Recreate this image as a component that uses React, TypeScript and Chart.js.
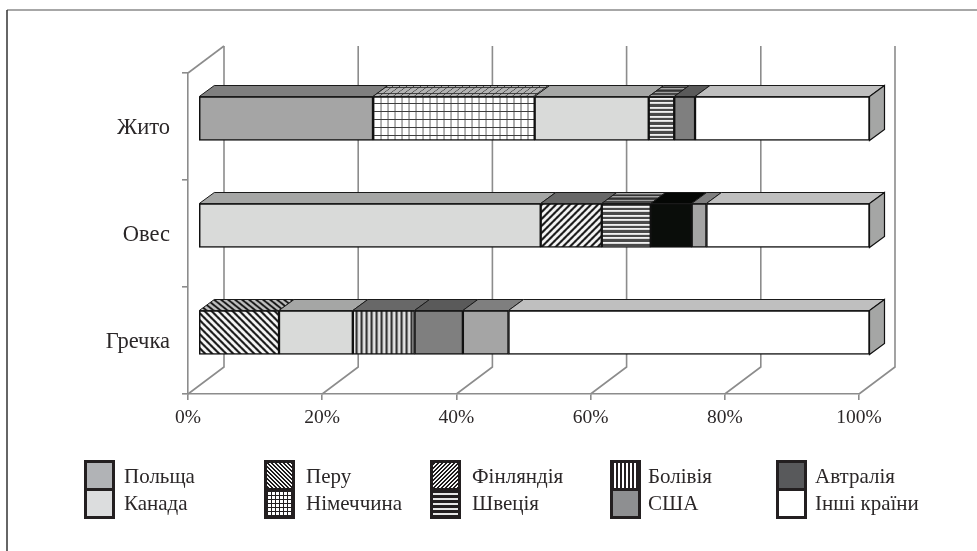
import React, { useEffect, useRef } from "react";
import { Chart, registerables } from "chart.js";

Chart.register(...registerables);

const categories = ["Жито", "Овес", "Гречка"];
const tickSuffix = "%";

const peru = [0, 0, 12];
const polshaFirst = [26, 0, 0];
const nimechchyna = [24.1, 0, 0];
const kanada = [17, 51, 11];
const finliandia = [0, 9.1, 0];
const bolivia = [0, 0, 9.2];
const shvetsia = [3.8, 7.3, 0];
const ssha = [3.1, 0, 7.2];
const avstralia = [0, 6.1, 0];
const polshaLast = [0, 2.2, 6.8];
const inshi = [26, 24.3, 53.8];

const legendTop = ["Польща", "Перу", "Фінляндія", "Болівія", "Автралія"];
const legendBottom = ["Канада", "Німеччина", "Швеція", "США", "Інші країни"];
const legendSwatchX = [84, 264, 430, 610, 776];
const legendTextX = [124, 306, 472, 648, 815];

const FONT = "'Liberation Serif'";
const TEXT = "#2b2728";
const AXIS = "#8c8c8c";

const DEPTH_X = 36;
const DEPTH_Y = 27;
const BAR_DX = 10.5;
const BAR_DY = 8;
const TOP_DX = 15;
const TOP_DY = 11;

function tile(w: number, h: number, paint: (x: number, y: number) => string) {
  const c = document.createElement("canvas");
  c.width = w;
  c.height = h;
  const g = c.getContext("2d")!;
  for (let y = 0; y < h; y++) {
    for (let x = 0; x < w; x++) {
      g.fillStyle = paint(x, y);
      g.fillRect(x, y, 1, 1);
    }
  }
  return c;
}

const tiles = {
  back: () => tile(7, 7, (x, y) => (((x - y + 70) % 7) < 3 ? "#1c1c1c" : "#f4f4f4")),
  fwd: () => tile(7, 7, (x, y) => (((x + y) % 7) < 3 ? "#1c1c1c" : "#f4f4f4")),
  grid: () => tile(7, 8, (x, y) => (y === 7 ? "#3d3d3d" : x === 6 ? "#5c5c5c" : "#ffffff")),
  horiz: () => tile(9, 9, (_x, y) => ([0, 1, 4, 5, 6].includes(y) ? "#4a4a4a" : y === 2 || y === 7 ? "#f2f2f2" : "#d8d8d8")),
  vert: () => tile(5, 5, (x) => (x < 2 ? "#333333" : x === 2 ? "#c4c4c4" : "#e4e4e4")),
  dots: () => tile(4, 4, (x, y) => ((x + y) % 2 === 0 ? "#2c2c2c" : "#bdbdbd")),
};

const legendTiles = {
  back: () => tile(4, 4, (x, y) => (((x - y + 40) % 4) < 2 ? "#1d1b1c" : "#f4f4f4")),
  fwd: () => tile(4, 4, (x, y) => (((x + y) % 4) < 2 ? "#1d1b1c" : "#f4f4f4")),
  grid: () => tile(4, 4, (x, y) => (x === 3 || y === 3 ? "#231f20" : "#ffffff")),
  horiz: () => tile(5, 5, (_x, y) => (y < 3 ? "#231f20" : "#e6e6e6")),
  vert: () => tile(4, 4, (x) => (x < 2 ? "#231f20" : "#ffffff")),
};

function px(ctx: CanvasRenderingContext2D, t: () => HTMLCanvasElement) {
  return ctx.createPattern(t(), "repeat");
}

export default function App() {
  const ref = useRef<HTMLCanvasElement>(null);

  useEffect(() => {
    const canvas = ref.current!;
    const ctx = canvas.getContext("2d")!;

    const fills: Record<string, any> = {
      peru: px(ctx, tiles.back),
      nim: px(ctx, tiles.grid),
      fin: px(ctx, tiles.fwd),
      bol: px(ctx, tiles.vert),
      shv: px(ctx, tiles.horiz),
    };

    const topFills: Record<string, any> = {};
    for (const [key, make, m] of [
      ["peru", tiles.back, [1, 0, 0, 0.8, 0, 0]],
      ["nim", tiles.grid, [1, 0, -1.02, 0.75, 0, 0]],
      ["fin", tiles.dots, [1, 0, 0, 1, 0, 0]],
      ["bol", tiles.dots, [1, 0, 0, 1, 0, 0]],
      ["shv", tiles.horiz, [1, 0, -1.02, 0.75, 0, 0]],
    ] as [string, () => HTMLCanvasElement, number[]][]) {
      const p = ctx.createPattern(make(), "repeat")!;
      p.setTransform(new DOMMatrix(m));
      topFills[key] = p;
    }

    const legendFills: Record<string, any> = {
      "Польща": "#b1b3b6",
      "Канада": "#dcddde",
      "Перу": px(ctx, legendTiles.back),
      "Німеччина": px(ctx, legendTiles.grid),
      "Фінляндія": px(ctx, legendTiles.fwd),
      "Швеція": px(ctx, legendTiles.horiz),
      "Болівія": px(ctx, legendTiles.vert),
      "США": "#8e8f91",
      "Автралія": "#58595b",
      "Інші країни": "#ffffff",
    };

    const ds = (label: string, data: number[], backgroundColor: any, top: any) => ({
      label,
      data,
      backgroundColor,
      top,
      borderColor: "#111111",
      borderWidth: 1.5,
      borderSkipped: false,
      barThickness: 44,
      stack: "s",
    });

    const plugin3d = {
      id: "depth3d",
      beforeDatasetsDraw(chart: any) {
        const c = chart.ctx as CanvasRenderingContext2D;
        const { x } = chart.scales;
        const { left, top, bottom } = chart.chartArea;
        c.save();
        c.strokeStyle = AXIS;
        c.lineWidth = 1.6;
        x.ticks.forEach((t: any) => {
          const px0 = x.getPixelForValue(t.value);
          c.beginPath();
          c.moveTo(px0, bottom);
          c.lineTo(px0 + DEPTH_X, bottom - DEPTH_Y);
          c.lineTo(px0 + DEPTH_X, top - DEPTH_Y);
          c.stroke();
        });
        c.beginPath();
        c.moveTo(left, top);
        c.lineTo(left + DEPTH_X, top - DEPTH_Y);
        c.stroke();
        c.restore();
        c.save();
        c.translate(BAR_DX, -BAR_DY);
      },
      afterDatasetsDraw(chart: any) {
        const c = chart.ctx as CanvasRenderingContext2D;
        chart.data.datasets.forEach((d: any, di: number) => {
          const last = di === chart.data.datasets.length - 1;
          chart.getDatasetMeta(di).data.forEach((bar: any, i: number) => {
            if (!d.data[i]) return;
            const p = bar.getProps(["x", "y", "base", "height"], true);
            const x0 = p.base;
            const x1 = p.x;
            const yT = p.y - p.height / 2;
            const yB = p.y + p.height / 2;
            c.beginPath();
            c.moveTo(x0, yT);
            c.lineTo(x0 + TOP_DX, yT - TOP_DY);
            c.lineTo(x1 + TOP_DX, yT - TOP_DY);
            c.lineTo(x1, yT);
            c.closePath();
            c.fillStyle = d.top.fill;
            c.fill();
            if (d.top.shade) {
              c.fillStyle = `rgba(0,0,0,${d.top.shade})`;
              c.fill();
            }
            c.strokeStyle = "#1a1a1a";
            c.lineWidth = 1;
            c.stroke();
            if (last) {
              c.beginPath();
              c.moveTo(x1, yT);
              c.lineTo(x1 + TOP_DX, yT - TOP_DY);
              c.lineTo(x1 + TOP_DX, yB - TOP_DY);
              c.lineTo(x1, yB);
              c.closePath();
              c.fillStyle = "#a5a6a5";
              c.fill();
              c.strokeStyle = "#111111";
              c.lineWidth = 1.2;
              c.stroke();
            }
          });
        });
        c.restore();
      },
      afterDraw(chart: any) {
        const c = chart.ctx as CanvasRenderingContext2D;
        c.save();
        c.strokeStyle = "#8a8a8a";
        c.lineWidth = 1.5;
        c.beginPath();
        c.moveTo(7, 10);
        c.lineTo(977, 10);
        c.stroke();
        c.strokeStyle = "#333333";
        c.beginPath();
        c.moveTo(7, 10);
        c.lineTo(7, 551);
        c.stroke();
        c.font = `21px ${FONT}`;
        c.textAlign = "left";
        c.textBaseline = "middle";
        legendTop.forEach((name, k) => {
          const sx = legendSwatchX[k];
          c.fillStyle = "#231f20";
          c.fillRect(sx, 460, 31, 59);
          c.fillStyle = legendFills[name];
          c.fillRect(sx + 3, 463, 25, 25);
          c.fillStyle = legendFills[legendBottom[k]];
          c.fillRect(sx + 3, 491, 25, 25);
          c.fillStyle = TEXT;
          c.fillText(name, legendTextX[k], 477);
          c.fillText(legendBottom[k], legendTextX[k], 504);
        });
        c.restore();
      },
    };

    const chart = new Chart(canvas, {
      type: "bar",
      data: {
        labels: categories,
        datasets: [
          ds("Перу", peru, fills.peru, { fill: topFills.peru, shade: 0.22 }),
          ds("Польща", polshaFirst, "#a5a5a5", { fill: "#7f7f7f" }),
          ds("Німеччина", nimechchyna, fills.nim, { fill: topFills.nim, shade: 0.3 }),
          ds("Канада", kanada, "#d9dad9", { fill: "#a5a6a5" }),
          ds("Фінляндія", finliandia, fills.fin, { fill: topFills.fin, shade: 0.1 }),
          ds("Болівія", bolivia, fills.bol, { fill: topFills.bol, shade: 0.1 }),
          ds("Швеція", shvetsia, fills.shv, { fill: topFills.shv, shade: 0.3 }),
          ds("США", ssha, "#7f7f7f", { fill: "#5a5a5a" }),
          ds("Автралія", avstralia, "#0a0d0a", { fill: "#050705" }),
          ds("Польща", polshaLast, "#a5a5a5", { fill: "#7f7f7f" }),
          ds("Інші країни", inshi, "#ffffff", { fill: "#bfbfbf" }),
        ] as any,
      },
      options: {
        indexAxis: "y",
        responsive: false,
        animation: false,
        devicePixelRatio: 1,
        layout: { padding: { left: 100, top: 73, right: 118, bottom: 127 } },
        plugins: { legend: { display: false }, tooltip: { enabled: false } },
        scales: {
          x: {
            stacked: true,
            min: 0,
            max: 100,
            afterFit: (s: any) => { s.height = 30; },
            ticks: {
              stepSize: 20,
              color: TEXT,
              padding: 6,
              maxRotation: 0,
              font: { family: FONT, size: 19.5 },
              callback: (v: any) => `${v}${tickSuffix}`,
            },
            border: { color: AXIS, width: 1.6 },
            grid: { drawOnChartArea: false, drawTicks: true, tickLength: 6, color: AXIS, lineWidth: 1.6 },
          },
          y: {
            stacked: true,
            afterFit: (s: any) => { s.width = 88; },
            ticks: {
              color: TEXT,
              padding: 12,
              labelOffset: 2,
              font: { family: FONT, size: 22.5 },
            },
            offset: true,
            border: { color: AXIS, width: 1.6 },
            grid: { offset: true, drawOnChartArea: false, drawTicks: true, tickLength: 6, color: AXIS, lineWidth: 1.6 },
          },
        },
      } as any,
      plugins: [plugin3d],
    });

    return () => chart.destroy();
  }, []);

  return (
    <div style={{ position: "absolute", left: 0, top: 0, width: 977, height: 551, background: "#fff" }}>
      <canvas ref={ref} width={977} height={551} style={{ display: "block", width: 977, height: 551 }} />
    </div>
  );
}
